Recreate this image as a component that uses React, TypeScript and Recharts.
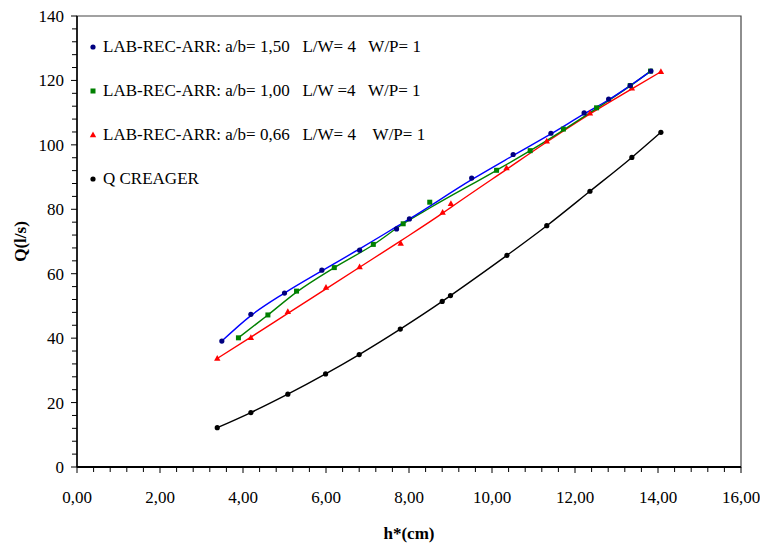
import React from "react";
import { ComposedChart, Line, XAxis, YAxis, ReferenceArea, Label } from "recharts";

const hBlue = [3.49, 4.19, 5.0, 5.9, 6.81, 7.7, 8.01, 9.51, 10.51, 11.42, 12.22, 12.81, 13.33, 13.83];
const qBlue = [39.1, 47.4, 54.0, 61.1, 67.3, 73.9, 77.0, 89.7, 97.0, 103.6, 109.9, 114.2, 118.4, 122.9];

const hGreen = [3.89, 4.6, 5.29, 6.2, 7.14, 7.86, 8.5, 10.11, 10.92, 11.72, 12.52, 13.33, 13.82];
const qGreen = [40.1, 47.2, 54.6, 61.9, 69.1, 75.5, 82.2, 92.1, 98.2, 104.9, 111.5, 118.4, 122.9];

const hRed = [3.38, 4.19, 5.08, 6.0, 6.81, 7.8, 8.81, 9.01, 10.35, 11.32, 12.36, 13.37, 14.07];
const qRed = [33.7, 40.1, 48.2, 55.7, 62.1, 69.4, 79.0, 81.7, 92.8, 101.1, 109.8, 117.6, 122.7];

const hCreager = [3.38, 4.19, 5.08, 5.99, 6.8, 7.79, 8.8, 9.0, 10.36, 11.32, 12.36, 13.37, 14.07];
const qCreager = [12.2, 16.9, 22.6, 28.9, 34.9, 42.8, 51.4, 53.2, 65.7, 74.9, 85.6, 96.1, 103.9];

// trend curves at the same h* positions
const qBlueTrend = [39.1, 47.0, 54.0, 60.9, 67.7, 74.6, 77.0, 89.2, 96.7, 103.4, 109.6, 114.0, 118.4, 122.9];
const qGreenTrend = [40.1, 47.2, 54.3, 61.9, 69.0, 75.5, 80.4, 92.1, 98.2, 104.6, 111.3, 118.3, 122.9];
const qRedTrend = [33.7, 40.3, 47.7, 55.3, 62.0, 70.2, 78.8, 80.6, 92.4, 100.9, 109.6, 117.4, 122.7];

const seriesNames = [
  "LAB-REC-ARR: a/b= 1,50   L/W= 4   W/P= 1",
  "LAB-REC-ARR: a/b= 1,00   L/W =4   W/P= 1",
  "LAB-REC-ARR: a/b= 0,66   L/W= 4    W/P= 1",
  "Q CREAGER",
];

const xMajor = [0, 2, 4, 6, 8, 10, 12, 14, 16];
const yMajor = [0, 20, 40, 60, 80, 100, 120, 140];

const xTicks: number[] = [];
for (let i = 0; i <= 40; i++) xTicks.push(Math.round(i * 0.4 * 10) / 10);
const yTicks: number[] = [];
for (let i = 0; i <= 35; i++) yTicks.push(i * 4);

const FONT = "'Liberation Serif', 'Times New Roman', serif";

const zip = (h: number[], q: number[]) => h.map((v, i) => ({ h: v, q: q[i] }));

type Shape = "circle" | "square" | "triangle";

function marker(shape: Shape, cx: number, cy: number, fill: string, key?: string | number) {
  if (shape === "square") {
    return <rect key={key} x={cx - 2.5} y={cy - 2.5} width={5} height={5} fill={fill} />;
  }
  if (shape === "triangle") {
    return (
      <path key={key} d={`M${cx},${cy - 3.5}L${cx + 3.2},${cy + 2.3}L${cx - 3.2},${cy + 2.3}Z`} fill={fill} />
    );
  }
  return <circle key={key} cx={cx} cy={cy} r={2.6} fill={fill} />;
}

const dotFor = (shape: Shape, fill: string) => (p: any) =>
  marker(shape, p.cx, p.cy, fill, `${shape}-${p.index}`);

const XTick = (props: any) => {
  const { x, y, payload } = props;
  const v = payload.value as number;
  const major = xMajor.some((m) => Math.abs(m - v) < 1e-6);
  return (
    <g>
      <line x1={x} x2={x} y1={y} y2={y + (major ? 6 : 5)} stroke="#000" strokeWidth={1} />
      {major && (
        <text x={x} y={y + 36} textAnchor="middle" fontFamily={FONT} fontSize={17} fill="#000">
          {v.toFixed(2).replace(".", ",")}
        </text>
      )}
    </g>
  );
};

const YTick = (props: any) => {
  const { x, y, payload } = props;
  const v = payload.value as number;
  const major = yMajor.includes(v);
  return (
    <g>
      <line x1={x - (major ? 6 : 5)} x2={x} y1={y} y2={y} stroke="#000" strokeWidth={1} />
      {major && (
        <text x={x - 13} y={y + 6} textAnchor="end" fontFamily={FONT} fontSize={17} fill="#000">
          {v}
        </text>
      )}
    </g>
  );
};

const series = [
  { pts: zip(hCreager, qCreager), trend: zip(hCreager, qCreager), shape: "circle" as Shape, dot: "#000000", line: "#000000" },
  { pts: zip(hRed, qRed), trend: zip(hRed, qRedTrend), shape: "triangle" as Shape, dot: "#ff0000", line: "#ff0000" },
  { pts: zip(hGreen, qGreen), trend: zip(hGreen, qGreenTrend), shape: "square" as Shape, dot: "#008000", line: "#008000" },
  { pts: zip(hBlue, qBlue), trend: zip(hBlue, qBlueTrend), shape: "circle" as Shape, dot: "#000080", line: "#0000ff" },
];

const legendItems: { shape: Shape; color: string }[] = [
  { shape: "circle", color: "#000080" },
  { shape: "square", color: "#008000" },
  { shape: "triangle", color: "#ff0000" },
  { shape: "circle", color: "#000000" },
];

export default function App() {
  return (
    <div style={{ position: "absolute", left: 0, top: 0, width: 760, height: 547, background: "#fff" }}>
      <ComposedChart width={760} height={547} margin={{ top: 16, right: 19, bottom: 0, left: 0 }}>
        <ReferenceArea x1={0} x2={16} y1={0} y2={140} fill="none" stroke="#444" strokeWidth={1.2} />
        <XAxis
          type="number"
          dataKey="h"
          domain={[0, 16]}
          ticks={xTicks}
          interval={0}
          tickSize={0}
          tickMargin={0}
          tick={<XTick />}
          height={80}
          stroke="#000"
          strokeWidth={2}
          allowDuplicatedCategory={false}
        >
          <Label
            value="h*(cm)"
            position="insideBottom"
            offset={8}
            style={{ fontFamily: FONT, fontSize: 17, fontWeight: 700, fill: "#000" }}
          />
        </XAxis>
        <YAxis
          type="number"
          dataKey="q"
          domain={[0, 140]}
          ticks={yTicks}
          interval={0}
          tickSize={0}
          tickMargin={0}
          tick={<YTick />}
          width={77}
          stroke="#000"
          strokeWidth={1.5}
        >
          <Label
            value="Q(l/s)"
            angle={-90}
            position="insideLeft"
            offset={20}
            style={{ fontFamily: FONT, fontSize: 17, fontWeight: 700, fill: "#000", textAnchor: "middle" }}
          />
        </YAxis>
        {series.map((s, i) => (
          <Line
            key={`trend-${i}`}
            data={s.trend}
            dataKey="q"
            type="monotone"
            stroke={s.line}
            strokeWidth={1.4}
            dot={false}
            activeDot={false}
            isAnimationActive={false}
          />
        ))}
        {series.map((s, i) => (
          <Line
            key={`pts-${i}`}
            data={s.pts}
            dataKey="q"
            stroke="none"
            dot={dotFor(s.shape, s.dot)}
            activeDot={false}
            isAnimationActive={false}
          />
        ))}
      </ComposedChart>
      <div style={{ position: "absolute", left: 86, top: 25, fontFamily: FONT, fontSize: 17, color: "#000" }}>
        {seriesNames.map((name, i) => (
          <div key={name} style={{ display: "flex", alignItems: "center", height: 44 }}>
            <svg width={14} height={14} style={{ marginRight: 3 }}>
              {marker(legendItems[i].shape, 7, 7, legendItems[i].color)}
            </svg>
            <span style={{ whiteSpace: "pre" }}>{name}</span>
          </div>
        ))}
      </div>
    </div>
  );
}
